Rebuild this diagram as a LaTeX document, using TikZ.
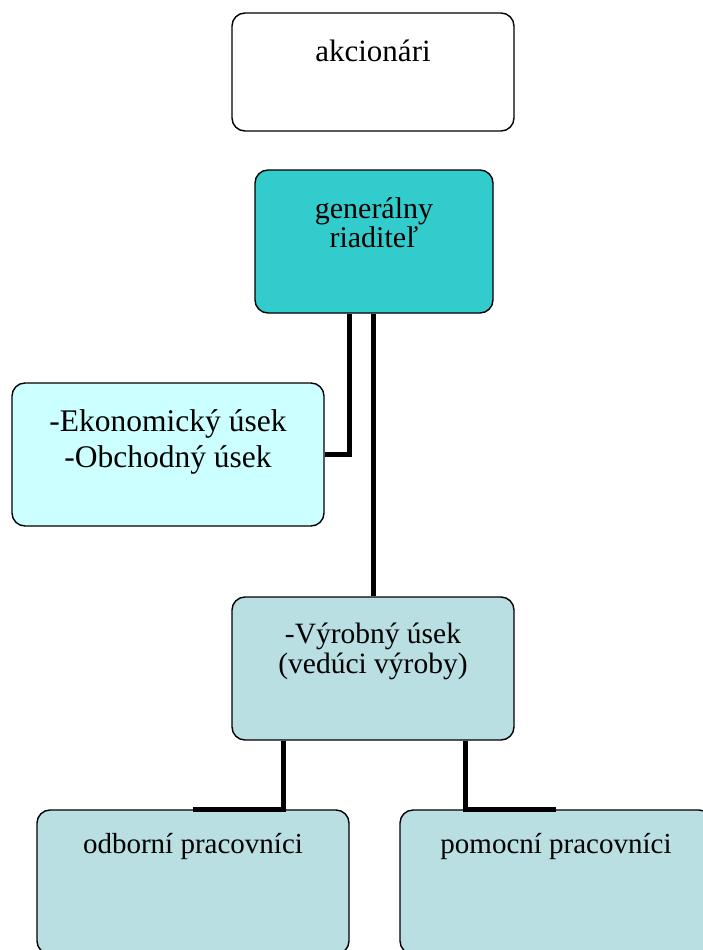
\documentclass[tikz,border=0pt]{standalone}
\usepackage{fontspec}
\setmainfont{Liberation Serif}
\definecolor{director}{RGB}{51,204,204}
\definecolor{economy}{RGB}{204,255,255}
\definecolor{production}{RGB}{185,223,227}
\begin{document}
\begin{tikzpicture}[x=1pt, y=-1pt,
    unit/.style={draw, line width=1.4pt, rounded corners=13pt, inner sep=0pt},
    boxtext/.style={anchor=north, inner sep=0pt, align=center},
    link/.style={line width=5pt}]
  % page frame, measured in pixels of the chart
  % \draw[help lines, step=50] (0,0) grid (703,950);
  \useasboundingbox (0,0) rectangle (703,950);

  % box 1: AKCIONARI
  \node (akcionari) at (373,72) [unit, fill=white, minimum width=282pt, minimum height=118pt] {};
  \node (akcionari-text) at (373,40) [boxtext, font=\fontsize{31}{30}\selectfont] {akcionári};

  % box 2: GENERALNY RIADITEL
  \node (riaditel) at (374,241.5) [unit, fill=director, minimum width=238pt, minimum height=143pt] {};
  \node (riaditel-text) at (374,197.5) [boxtext, font=\fontsize{30}{29}\selectfont] {generálny\\riaditeľ};

  % box 3: EKONOMICKY + OBCHODNY USEK
  \node (ekonom) at (168,454.5) [unit, fill=economy, minimum width=312pt, minimum height=143pt] {};
  \node (ekonom-text) at (168,409.5) [boxtext, font=\fontsize{31.5}{36}\selectfont] {-Ekonomický úsek\\-Obchodný úsek};

  % box 4: VYROBNY USEK
  \node (vyroba) at (373,668.5) [unit, fill=production, minimum width=282pt, minimum height=143pt] {};
  \node (vyroba-text) at (373,623) [boxtext, font=\fontsize{29.5}{30}\selectfont] {-Výrobný úsek\\(vedúci výroby)};

  % boxes 5 and 6: workers, cut by the lower and right edge
  \node (odborni) at (193,882) [unit, fill=production, minimum width=312pt, minimum height=144pt] {};
  \node (odborni-text) at (193,833) [boxtext, font=\fontsize{29}{30}\selectfont] {odborní pracovníci};
  \node (pomocni) at (556,882) [unit, fill=production, minimum width=312pt, minimum height=144pt] {};
  \node (pomocni-text) at (556,833) [boxtext, font=\fontsize{29}{30}\selectfont] {pomocní pracovníci};

  % connectors
  \draw[link] ([xshift=-25pt]riaditel.south) |- (ekonom.east);
  \draw[link] (riaditel.south -| vyroba.north) -- (vyroba.north);
  \draw[link] ([xshift=-90pt]vyroba.south) |- (odborni.north);
  \draw[link] ([xshift=92pt]vyroba.south) |- (pomocni.north);
\end{tikzpicture}
\end{document}
